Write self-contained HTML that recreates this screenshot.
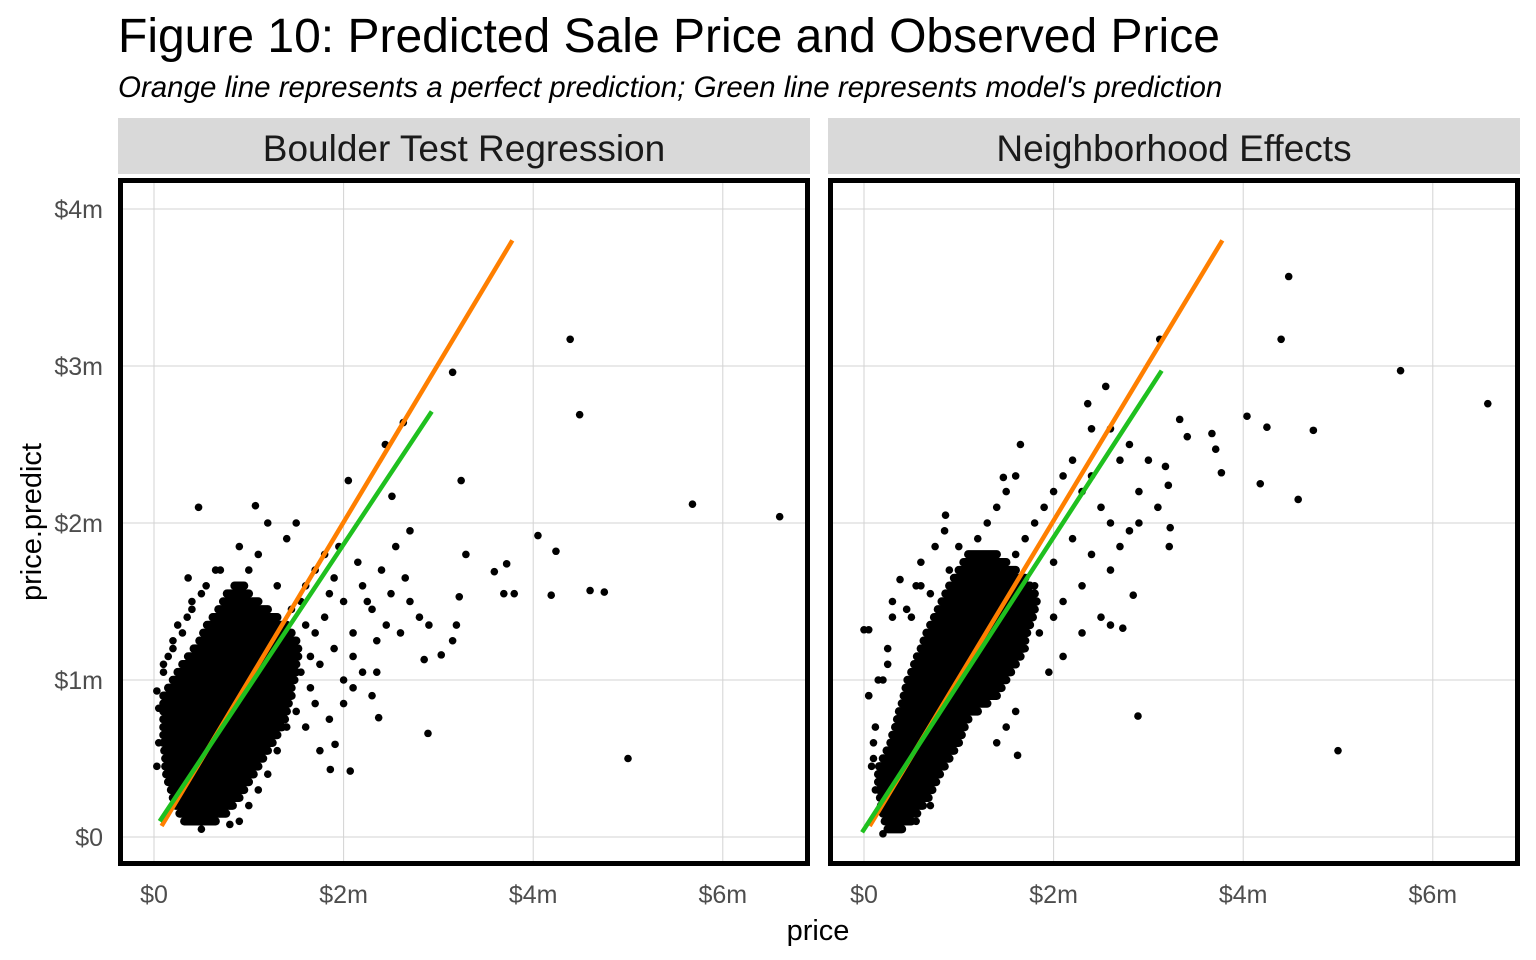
<!DOCTYPE html>
<html><head><meta charset="utf-8"><style>
body{margin:0;background:#fff;}
svg{display:block;font-family:"Liberation Sans",sans-serif;}
</style></head><body>
<svg id="chart" width="1536" height="960" xmlns="http://www.w3.org/2000/svg">
<text x="118" y="52" font-size="48" fill="#000">Figure 10: Predicted Sale Price and Observed Price</text>
<text x="118" y="97" font-size="29.5" font-style="italic" fill="#000">Orange line represents a perfect prediction; Green line represents model's prediction</text>
<text x="818" y="940" font-size="29" text-anchor="middle" fill="#000">price</text>
<text transform="translate(41,522) rotate(-90)" font-size="29" text-anchor="middle" fill="#000">price.predict</text>
</svg>
<script>
const xTicks=[0,2,4,6];
const xTickLabels=["$0","$2m","$4m","$6m"];
const yTicks=[0,1,2,3,4];
const yTickLabels=["$0","$1m","$2m","$3m","$4m"];
const panelTitles=["Boulder Test Regression","Neighborhood Effects"];
// perfect line & model line endpoints [x0,y0,x1,y1] in $m
const perfectLineA=[0.08,0.07,3.78,3.8];
const modelLineA=[0.06,0.1,2.93,2.71];
const perfectLineB=[0.06,0.07,3.78,3.8];
const modelLineB=[-0.02,0.03,3.14,2.97];
// dense cloud rows: [predict, priceStart, priceEnd]
const cloudA=[[0.10,0.32,0.65],[0.15,0.27,0.76],[0.20,0.23,0.83],[0.25,0.20,0.90],[0.30,0.18,0.95],[0.35,0.15,1.00],[0.40,0.13,1.05],[0.45,0.12,1.10],[0.50,0.12,1.15],[0.55,0.11,1.20],[0.60,0.10,1.25],[0.65,0.10,1.30],[0.70,0.10,1.35],[0.75,0.10,1.38],[0.80,0.10,1.40],[0.85,0.10,1.42],[0.90,0.10,1.45],[0.95,0.15,1.45],[1.00,0.20,1.48],[1.05,0.25,1.50],[1.10,0.30,1.50],[1.15,0.36,1.52],[1.20,0.42,1.52],[1.25,0.48,1.50],[1.30,0.52,1.45],[1.35,0.56,1.40],[1.40,0.62,1.30],[1.45,0.68,1.20],[1.50,0.73,1.10],[1.55,0.77,1.00],[1.60,0.85,0.95]];
const priceA=[4.39,4.49,3.15,5.68,6.60,5.0,4.05,4.24,4.19,4.6,4.75,3.72,3.69,3.80,3.24,3.29,3.59,3.22,3.19,3.15,2.89,2.85,3.03,2.37,2.07,1.91,1.86,2.05,2.44,2.63,2.51,0.47,1.07,0.36,
1.5,1.6,1.7,1.8,1.55,1.65,1.75,1.9,2.0,2.1,2.2,2.3,2.4,2.5,1.6,1.7,1.8,1.9,2.0,2.1,1.5,1.6,1.7,2.2,2.35,2.6,2.7,2.55,2.7,1.4,1.5,1.2,1.1,0.9,1.0,0.7,0.5,0.4,0.3,0.2,0.1,0.05,0.03,0.9,0.8,0.5,1.0,1.1,1.2,1.3,1.4,1.85,1.95,2.15,2.25,2.45,2.8,2.9,2.65,1.3,1.45,1.55,1.65,1.75,1.85,2.0,2.1,2.3,2.35,
0.03,0.05,0.1,0.15,0.2,0.25,0.35,0.4,0.55,0.65];
const predA=[3.17,2.69,2.96,2.12,2.04,0.50,1.92,1.82,1.54,1.57,1.56,1.74,1.55,1.55,2.27,1.80,1.69,1.53,1.35,1.25,0.66,1.13,1.16,0.76,0.42,0.59,0.43,2.27,2.50,2.64,2.17,2.10,2.11,1.65,
1.2,1.35,1.3,1.4,1.05,0.95,1.1,1.2,1.5,1.3,1.6,1.45,1.7,1.55,1.6,1.7,1.8,1.65,1.0,1.15,0.8,0.7,0.85,1.05,1.25,1.3,1.5,1.85,1.95,1.9,2.0,2.0,1.8,1.85,1.7,1.7,1.55,1.45,1.3,1.2,1.1,0.6,0.45,0.1,0.08,0.05,0.2,0.3,0.4,0.55,0.7,1.55,1.85,1.75,1.5,1.35,1.4,1.35,1.65,1.6,1.45,1.5,1.15,0.55,0.75,0.85,0.95,0.9,1.05,
0.93,0.82,1.05,1.15,1.25,1.35,1.4,1.5,1.6,1.7];
const cloudB=[[0.05,0.25,0.40],[0.10,0.22,0.50],[0.15,0.20,0.56],[0.20,0.18,0.62],[0.25,0.17,0.68],[0.30,0.16,0.72],[0.35,0.15,0.76],[0.40,0.15,0.80],[0.45,0.16,0.85],[0.50,0.20,0.90],[0.55,0.24,0.95],[0.60,0.28,1.00],[0.65,0.30,1.03],[0.70,0.33,1.06],[0.75,0.35,1.10],[0.80,0.37,1.20],[0.85,0.40,1.30],[0.90,0.42,1.40],[0.95,0.44,1.45],[1.00,0.46,1.50],[1.05,0.50,1.55],[1.10,0.53,1.60],[1.15,0.56,1.65],[1.20,0.60,1.68],[1.25,0.63,1.70],[1.30,0.66,1.72],[1.35,0.70,1.75],[1.40,0.74,1.78],[1.45,0.78,1.80],[1.50,0.82,1.82],[1.55,0.86,1.80],[1.60,0.90,1.75],[1.65,0.95,1.70],[1.70,1.00,1.60],[1.75,1.05,1.50],[1.80,1.10,1.40]];
const priceB=[4.48,4.40,5.66,6.58,5.0,4.04,4.25,4.74,4.18,4.58,3.67,3.71,3.77,2.89,2.84,2.73,2.36,2.55,3.12,3.33,3.41,3.18,3.21,3.23,3.22,1.62,0.86,1.65,1.47,0.05,0.38,
1.5,1.6,1.7,1.8,1.9,2.0,2.1,2.2,2.3,2.4,2.5,2.6,2.2,2.0,1.8,1.65,1.7,1.85,2.0,2.1,2.3,2.4,2.6,2.7,2.8,2.9,1.2,1.3,1.1,1.0,0.9,1.4,1.5,1.6,2.5,2.6,2.3,2.1,1.95,1.6,1.5,1.4,0.1,0.05,0.12,0.2,0.15,0.25,0.3,0.5,0.6,0.7,0.2,0.55,0.7,2.7,2.8,2.6,2.4,3.0,3.1,2.9,
0.0,0.05,0.1,0.08,0.12,0.15,0.25,0.3,0.45,0.55,0.6,0.75,0.85];
const predB=[3.57,3.17,2.97,2.76,0.55,2.68,2.61,2.59,2.25,2.15,2.57,2.47,2.32,0.77,1.54,1.33,2.76,2.87,3.17,2.66,2.55,2.36,2.24,1.97,1.85,0.52,2.05,2.50,2.29,1.32,1.64,
1.7,1.8,1.9,2.0,2.1,2.2,2.3,2.4,2.2,2.3,2.1,2.0,1.9,1.75,1.6,1.4,1.2,1.3,1.4,1.5,1.6,1.8,1.7,1.85,1.95,2.0,1.9,2.0,1.8,1.85,1.7,2.1,2.2,2.3,1.4,1.35,1.3,1.15,1.05,0.8,0.7,0.6,0.5,0.9,0.7,1.0,0.3,1.1,1.5,1.4,1.6,1.55,0.02,0.1,0.2,2.4,2.5,2.6,2.6,2.4,2.1,2.2,
1.32,0.9,0.6,0.45,0.3,1.0,1.2,1.4,1.45,1.6,1.75,1.85,1.95];

const NS="http://www.w3.org/2000/svg";
const svg=document.getElementById('chart');
function mk(tag,attrs,parent){const e=document.createElementNS(NS,tag);for(const k in attrs)e.setAttribute(k,attrs[k]);(parent||svg).appendChild(e);return e;}
const yScale=v=>837-157*v;
function drawPanel(px0,x0px,title,cloud,prices,preds,perfect,model,key){
  const xScale=v=>x0px+94.8*v;
  const g=mk('g',{});
  
  
  const strip=mk('rect',{x:px0,y:118,width:692,height:56,fill:'#d9d9d9'},g);
  
  
  const st=mk('text',{x:px0+346,y:161,'font-size':37,'text-anchor':'middle',fill:'#1a1a1a'},g);
  st.textContent=title;
  
  
  const clip=mk('clipPath',{id:'clip'+key},g);
  mk('rect',{x:px0,y:178,width:692,height:688},clip);
  xTicks.forEach((t,i)=>{
    const l=mk('line',{x1:xScale(t),x2:xScale(t),y1:178,y2:866,stroke:'#d3d3d3','stroke-width':1},g);
    
    
    const tx=mk('text',{x:xScale(t),y:903,'font-size':25,'text-anchor':'middle',fill:'#4d4d4d'},g);
    tx.textContent=xTickLabels[i];
    
    
  });
  yTicks.forEach((t,i)=>{
    const l=mk('line',{x1:px0,x2:px0+692,y1:yScale(t),y2:yScale(t),stroke:'#d3d3d3','stroke-width':1},g);
    
    
    if(key==='a'){
      const tx=mk('text',{x:103,y:yScale(t)+9,'font-size':25,'text-anchor':'end',fill:'#4d4d4d'},g);
      tx.textContent=yTickLabels[i];
      
      
    }
  });
  const pg=mk('g',{'clip-path':'url(#clip'+key+')'},g);
  cloud.forEach(r=>{
    const l=mk('line',{x1:xScale(r[1]),x2:xScale(r[2]),y1:yScale(r[0]),y2:yScale(r[0]),stroke:'#000','stroke-width':8.5,'stroke-linecap':'round'},pg);
    
    
  });
  prices.forEach((p,i)=>{
    const c=mk('circle',{cx:xScale(p),cy:yScale(preds[i]),r:3.8,fill:'#000'},pg);
    
    
  });
  const lo=mk('line',{x1:xScale(perfect[0]),y1:yScale(perfect[1]),x2:xScale(perfect[2]),y2:yScale(perfect[3]),stroke:'#ff7f00','stroke-width':4.5},pg);
  
  
  const lm=mk('line',{x1:xScale(model[0]),y1:yScale(model[1]),x2:xScale(model[2]),y2:yScale(model[3]),stroke:'#1fc01f','stroke-width':4.5},pg);
  
  
  const b=mk('rect',{x:px0+2.5,y:180.5,width:687,height:683,fill:'none',stroke:'#000','stroke-width':5},g);
  
  
}
drawPanel(118,154,panelTitles[0],cloudA,priceA,predA,perfectLineA,modelLineA,'a');
drawPanel(828,864,panelTitles[1],cloudB,priceB,predB,perfectLineB,modelLineB,'b');
</script>
</body></html>
